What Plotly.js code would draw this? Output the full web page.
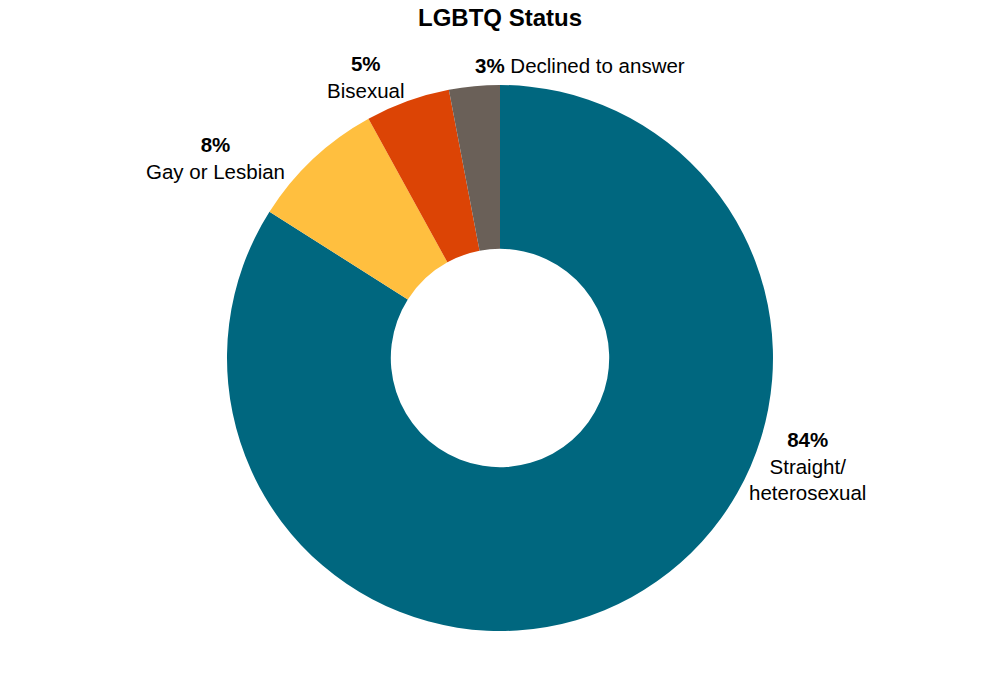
<!DOCTYPE html>
<html lang="en">
  <head>
    <meta charset="UTF-8" />
    <title>LGBTQ Status</title>
    <script src="https://cdn.plot.ly/plotly-3.0.1.min.js"></script>
    <style>
      * {
        margin: 0;
        padding: 0;
      }
      html,
      body {
        width: 1000px;
        height: 682px;
        background: #ffffff;
      }
      #chart {
        width: 1000px;
        height: 682px;
      }
    </style>
  </head>
  <body>
    <div id="chart"></div>

    <script>
      // Data
      const categories = [
        "Straight/ heterosexual",
        "Gay or Lesbian",
        "Bisexual",
        "Declined to answer",
      ];
      const shares = [84, 8, 5, 3];
      // how each label is broken into lines
      const labelLines = [
        ["Straight/", "heterosexual"],
        ["Gay or Lesbian"],
        ["Bisexual"],
        ["Declined to answer"],
      ];
      const sliceColors = ["#00677f", "#ffbf3f", "#dc4405", "#6a6058"];

      // label placement (paper coords) and how the pct joins the name
      const labelPlace = [
        { x: 0.807, y: 0.302, anchor: "center", inline: false },
        { x: 0.215, y: 0.866, anchor: "center", inline: false },
        { x: 0.366, y: 1.015, anchor: "center", inline: false },
        { x: 0.473, y: 1.035, anchor: "left", inline: true },
      ];

      const annotations = categories.map(function (cat, i) {
        const pct = "<b>" + shares[i] + "%</b>";
        const sep = labelPlace[i].inline ? " " : "<br>";
        return {
          xref: "paper",
          yref: "paper",
          x: labelPlace[i].x,
          y: labelPlace[i].y,
          xanchor: labelPlace[i].anchor,
          yanchor: "middle",
          align: "center",
          showarrow: false,
          text: pct + sep + labelLines[i].join("<br>"),
          font: { family: "Liberation Sans, Arial, sans-serif", size: 20.5, color: "#000000" },
        };
      });

      const data = [
        {
          type: "pie",
          labels: categories,
          values: shares,
          hole: 0.4,
          sort: false,
          direction: "clockwise",
          rotation: 0,
          textinfo: "none",
          hoverinfo: "label+percent",
          marker: { colors: sliceColors, line: { width: 0 } },
          domain: { x: [0, 1], y: [0, 1] },
        },
      ];

      const layout = {
        width: 1000,
        height: 682,
        margin: { l: 0, r: 0, t: 85, b: 51 },
        paper_bgcolor: "#ffffff",
        showlegend: false,
        font: { family: "Liberation Sans, Arial, sans-serif", color: "#000000" },
        title: {
          text: "<b>LGBTQ Status</b>",
          x: 0.5,
          xanchor: "center",
          y: 0.974,
          yanchor: "middle",
          font: { size: 24, color: "#000000" },
        },
        annotations: annotations,
      };

      Plotly.newPlot("chart", data, layout, { displayModeBar: false });
    </script>
  </body>
</html>
